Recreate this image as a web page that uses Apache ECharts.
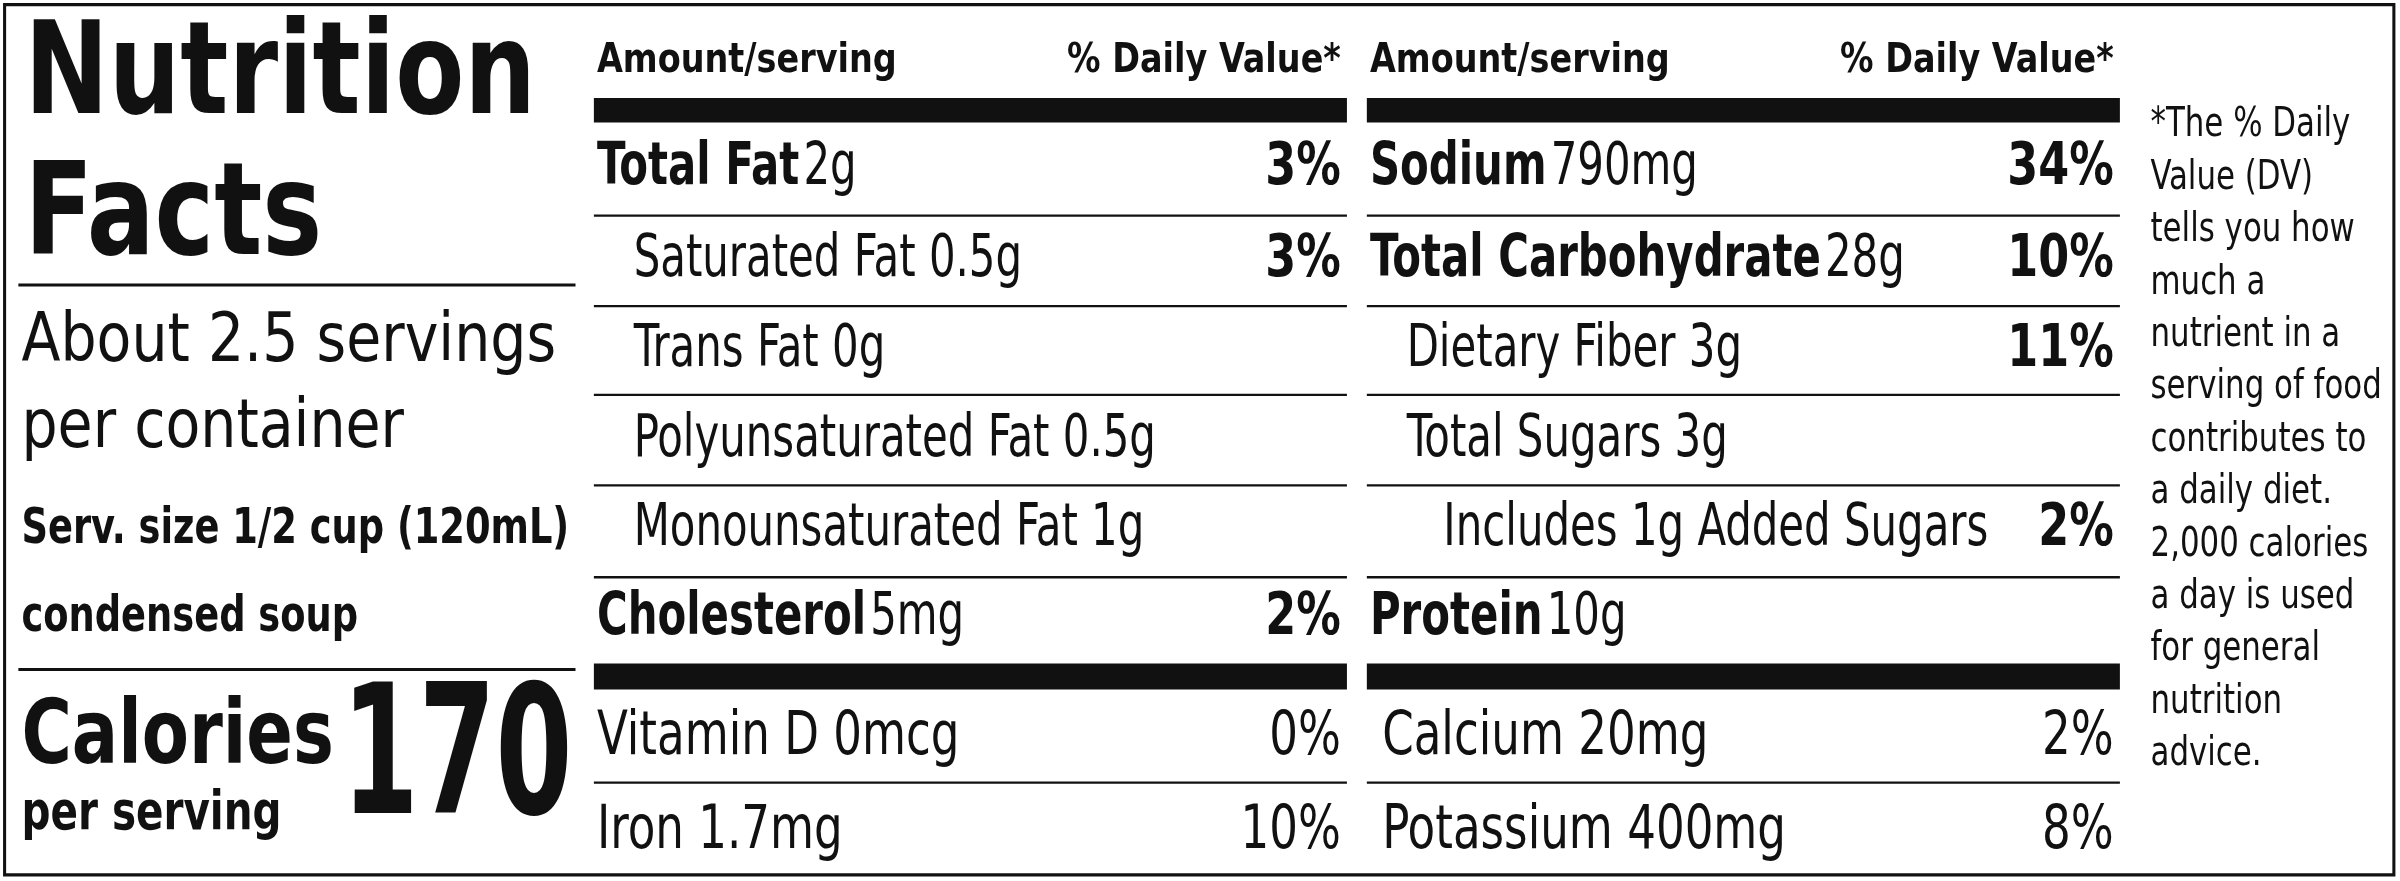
<!DOCTYPE html>
<html><head><meta charset="utf-8">
<script src="https://cdn.jsdelivr.net/npm/echarts@6/dist/echarts.min.js"></script>
<style>html,body{margin:0;padding:0;background:#fff}#c{width:2400px;height:881px}</style>
</head><body><div id="c"></div>
<script>
const title = ['Nutrition', 'Facts'];
const servingLines = ['About 2.5 servings', 'per container'];
const servSize = ['Serv. size 1/2 cup (120mL)', 'condensed soup'];
const calories = '170';
const headers = ['Amount/serving', '% Daily Value*'];
// [bold name, regular text, %DV, indent level]
const leftRows = [
  ['Total Fat', '2g', '3%', 0],
  ['', 'Saturated Fat 0.5g', '3%', 1],
  ['', 'Trans Fat 0g', '', 1],
  ['', 'Polyunsaturated Fat 0.5g', '', 1],
  ['', 'Monounsaturated Fat 1g', '', 1],
  ['Cholesterol', '5mg', '2%', 0]
];
const rightRows = [
  ['Sodium', '790mg', '34%', 0],
  ['Total Carbohydrate', '28g', '10%', 0],
  ['', 'Dietary Fiber 3g', '11%', 1],
  ['', 'Total Sugars 3g', '', 1],
  ['', 'Includes 1g Added Sugars', '2%', 2],
  ['Protein', '10g', '', 0]
];
const leftVitamins = [['Vitamin D 0mcg', '0%'], ['Iron 1.7mg', '10%']];
const rightVitamins = [['Calcium 20mg', '2%'], ['Potassium 400mg', '8%']];
const footnote = ['*The % Daily', 'Value (DV)', 'tells you how', 'much a', 'nutrient in a', 'serving of food', 'contributes to', 'a daily diet.', '2,000 calories', 'a day is used', 'for general', 'nutrition', 'advice.'];

const F = "'DejaVu Sans Condensed','Liberation Sans Narrow',sans-serif";
const els = [];
function txt(t, x, y, size, bold, align, sx) {
  sx = sx || 0.83;
  els.push({type: 'text', x: x, y: y, scaleX: sx, style: {text: t, x: 0, y: 0, fill: '#111', font: (bold ? 'bold ' : '') + size + 'px ' + F, align: align || 'left', verticalAlign: 'middle'}});
}
function rich(b, r, x, y, size) {
  const t = (b ? '{b|' + b + '} ' : '') + '{r|' + r + '}';
  els.push({type: 'text', x: x, y: y, scaleX: 0.8, style: {text: t, x: 0, y: 0, align: 'left', verticalAlign: 'middle',
    rich: {b: {font: 'bold ' + size + 'px ' + F, fill: '#111'}, r: {font: size + 'px ' + F, fill: '#111'}}}});
}
function rect(x, y, w, h) { els.push({type: 'rect', shape: {x, y, width: w, height: h}, style: {fill: '#111'}}); }

els.push({type: 'rect', shape: {x: 3, y: 3, width: 1561, height: 568}, style: {fill: 'none', stroke: '#111', lineWidth: 2}});
txt(title[0], 16, 52, 84, true, 'left', 0.87);
txt(title[1], 16, 144, 84, true, 'left', 0.87);
rect(12, 185, 364, 2);
txt(servingLines[0], 14, 224, 44, false, 'left', 0.94);
txt(servingLines[1], 14, 280, 44, false, 'left', 0.94);
txt(servSize[0], 14, 346, 33, true, 'left', 0.81);
txt(servSize[1], 14, 403, 33, true, 'left', 0.81);
rect(12, 436, 364, 2);
txt('Calories', 14, 483, 58, true, 'left', 0.86);
txt('per serving', 14, 532, 35, true, 'left', 0.84);
txt(calories, 374, 500, 118, true, 'right', 0.68);

const rowY = [110, 170, 229, 288, 346, 404];
const sepY = [140, 199, 257, 316, 376];
function column(x0, x1, rows, vits) {
  txt(headers[0], x0 + 2, 40, 27, true, 'left', 0.9);
  txt(headers[1], x1 - 4, 40, 27, true, 'right', 0.9);
  rect(x0, 64, x1 - x0, 16);
  rows.forEach((r, i) => {
    rich(r[0], r[1], x0 + 2 + r[3] * 24, rowY[i], 38);
    if (r[2]) txt(r[2], x1 - 4, rowY[i], 38, true, 'right', 0.85);
  });
  sepY.forEach(y => rect(x0, y, x1 - x0, 1.5));
  rect(x0, 433, x1 - x0, 17);
  const vy = [482, 543];
  vits.forEach((v, i) => {
    txt(v[0], x0 + 2 + (x0 > 800 ? 8 : 0), vy[i], 40, false, 'left', 0.82);
    txt(v[1], x1 - 4, vy[i], 40, false, 'right', 0.82);
  });
  rect(x0, 510, x1 - x0, 1.5);
}
column(388, 880, leftRows, leftVitamins);
column(893, 1385, rightRows, rightVitamins);
footnote.forEach((t, i) => txt(t, 1405, 82 + i * 34.2, 27, false, 'left', 0.83));

const chart = echarts.init(document.getElementById('c'));
chart.setOption({
  animation: false,
  graphic: [{type: 'group', scaleX: 2400 / 1568, scaleY: 881 / 575, children: els}]
});
</script></body></html>
